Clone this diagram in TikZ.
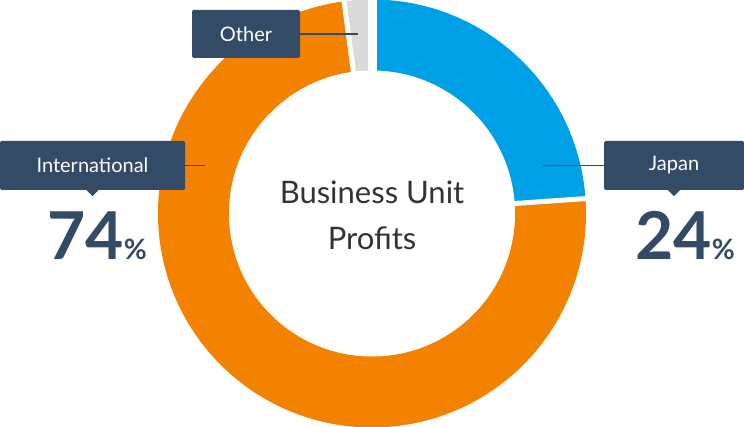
\documentclass[tikz,border=0pt]{standalone}
\usepackage{fontspec}
\setmainfont{Lato}
\definecolor{navy}{HTML}{334B66}
\definecolor{org}{HTML}{F28200}
\definecolor{blu}{HTML}{00A0E6}
\definecolor{gry}{HTML}{DADADA}
\tikzset{
 lbl/.style={fill=navy,text=white,rounded corners=1.5pt,inner sep=0pt,font=\fontsize{20}{22}\selectfont},
 pct/.style={text=navy,font=\bfseries\fontsize{66}{66}\selectfont,inner sep=0pt,anchor=base},
 lead/.style={navy,line width=1.3pt},
 gap/.style={white,line width=#1}
}
\begin{document}
\begin{tikzpicture}[x=1pt,y=1pt]
\useasboundingbox (0,0) rectangle (744,-427);
\coordinate (c) at (372,-213.5);
\def\R{214}
\fill[blu] (c) -- ++(90:\R) arc[start angle=90,end angle=4,radius=\R] -- cycle;
\fill[org] (c) -- ++(4:\R) arc[start angle=4,end angle=-262.5,radius=\R] -- cycle;
\fill[gry] (c) -- ++(97.5:\R) arc[start angle=97.5,end angle=90,radius=\R] -- cycle;
\draw[gap=9pt] (c) -- ++(90:\R+2);
\draw[gap=5pt] (c) -- ++(4:\R+2);
\draw[gap=5pt] (c) -- ++(97.5:\R+2);
\fill[white] (c) circle[radius=143];
\node[align=center,text=black!80,font=\fontsize{31}{46}\selectfont] (t) at (372,-215) {Business Unit\\Profits};
% labels
\node[lbl,minimum width=108,minimum height=48] (oth) at (246,-34) {Other};
\coordinate (othe) at (358,-34);
\draw[lead] (oth.east) -- (othe);
\node[lbl,minimum width=185,minimum height=49] (int) at (92.5,-165.5) {International};
\fill[navy] ([xshift=-6]int.south) -- ([xshift=6]int.south) -- ([yshift=-6]int.south) -- cycle;
\coordinate (inte) at (205,-165.5);
\draw[lead] (int.east) -- (inte);
\node[lbl,minimum width=140,minimum height=49] (jap) at (674,-165.5) {Japan};
\fill[navy] ([xshift=-6]jap.south) -- ([xshift=6]jap.south) -- ([yshift=-6]jap.south) -- cycle;
\coordinate (jape) at (543,-165.5);
\draw[lead] (jap.west) -- (jape);
\node[pct] (p74) at (97,-260) {74\fontsize{28}{28}\selectfont\%};
\node[pct] (p24) at (685,-260) {24\fontsize{28}{28}\selectfont\%};
\end{tikzpicture}
\end{document}
